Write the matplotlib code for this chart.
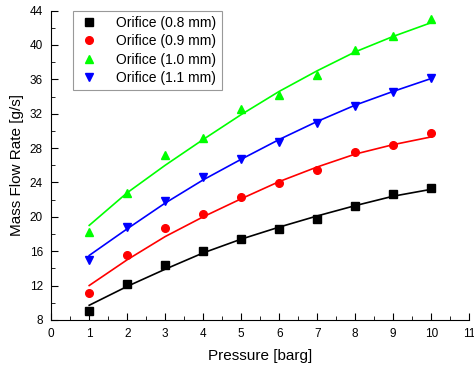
import matplotlib
matplotlib.use('Agg')
import matplotlib.pyplot as plt
from matplotlib.ticker import MultipleLocator

plt.rcParams['font.family'] = ['Liberation Sans', 'DejaVu Sans']

pressure = [1, 2, 3, 4, 5, 6, 7, 8, 9, 10]
labels = ['Orifice (0.8 mm)', 'Orifice (0.9 mm)', 'Orifice (1.0 mm)', 'Orifice (1.1 mm)']

# measured points
m08 = [9.0, 12.2, 14.4, 16.0, 17.4, 18.6, 19.8, 21.3, 22.6, 23.3]
m09 = [11.1, 15.6, 18.7, 20.3, 22.3, 23.9, 25.5, 27.5, 28.3, 29.8]
m10 = [18.2, 22.8, 27.2, 29.2, 32.5, 34.2, 36.5, 39.4, 41.0, 43.0]
m11 = [15.0, 18.8, 21.8, 24.6, 26.7, 28.7, 30.9, 32.9, 34.5, 36.2]

# fitted curves
f08 = [9.7, 11.9, 13.9, 15.8, 17.4, 18.8, 20.1, 21.3, 22.4, 23.2]
f09 = [12.0, 15.0, 17.7, 20.0, 22.1, 24.1, 25.8, 27.3, 28.4, 29.3]
f10 = [19.0, 22.8, 26.0, 29.0, 31.9, 34.6, 37.0, 39.2, 41.0, 42.6]
f11 = [15.5, 18.6, 21.6, 24.3, 26.7, 29.0, 31.1, 33.0, 34.6, 36.1]

colors = ['black', '#ff0000', '#00ff00', '#0000ff']
markers = ['s', 'o', '^', 'v']

fig = plt.figure(figsize=(4.74, 3.66), dpi=100)
ax = fig.add_axes([0.108, 0.126, 0.882, 0.845])

for m, f, c, mk, lb in zip([m08, m09, m10, m11], [f08, f09, f10, f11], colors, markers, labels):
    ax.plot(pressure, f, color=c, lw=1.2)
    ax.plot(pressure, m, linestyle='none', marker=mk, color=c, markersize=5.5, label=lb)

ax.set_xlim(0, 11)
ax.set_ylim(8, 44)
ax.xaxis.set_major_locator(MultipleLocator(1))
ax.xaxis.set_minor_locator(MultipleLocator(0.5))
ax.yaxis.set_major_locator(MultipleLocator(4))
ax.yaxis.set_minor_locator(MultipleLocator(2))
ax.tick_params(which='major', direction='in', length=5, labelsize=8.5, pad=6)
ax.tick_params(which='minor', direction='in', length=3)
ax.spines['top'].set_visible(False)
ax.spines['right'].set_visible(False)

ax.set_xlabel('Pressure [barg]', fontsize=11, labelpad=6)
ax.set_ylabel('Mass Flow Rate [g/s]', fontsize=11, labelpad=4)

leg = ax.legend(loc='upper left', bbox_to_anchor=(0.052, 1.0), borderaxespad=0,
                fontsize=10, frameon=True, fancybox=False, handletextpad=1.2,
                labelspacing=0.3, handlelength=1.5)
leg.get_frame().set_edgecolor('gray')
leg.get_frame().set_linewidth(0.8)

fig.savefig('out.png', dpi=100)
